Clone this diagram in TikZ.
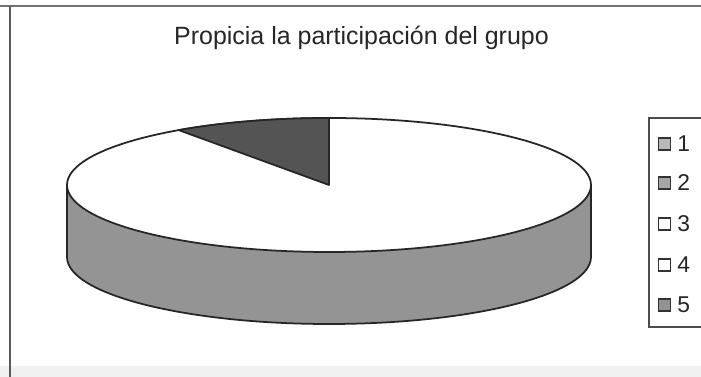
\documentclass[tikz,border=0pt]{standalone}
\usepackage{fontspec}
\setmainfont{Liberation Sans}
\usepackage{tikz}
\usetikzlibrary{positioning}

\definecolor{sidegray}{gray}{0.58}
\definecolor{wedgegray}{gray}{0.33}

\begin{document}
\begin{tikzpicture}[
        pieline/.style={draw=black!85, line width=1pt, line join=round},
        legendkey/.style={draw=black!80, fill=#1, line width=0.7pt, minimum size=0.24cm, inner sep=0pt},
        legendlabel/.style={inner sep=0pt, font=\fontsize{13}{15}\selectfont, text=black!85},
        titletext/.style={inner sep=0pt, font=\fontsize{14.2}{17}\selectfont, text=black!85}
    ]
                    \useasboundingbox (0,0) rectangle (14.02,7.54);
                    \fill [white] (0,0) rectangle (14.02,7.54);
                    \fill [black!6] (0,0) rectangle (14.02,0.22);

                    % chart frame
                    \draw [black!55, line width=0.6pt] (0,7.42) -- (14.02,7.42);
                    \draw [black!65, line width=0.6pt] (0.2,7.42) -- (0.2,0);

                    \node [titletext, anchor=base] (title) at (7.23,6.64)
                          {Propicia la participación del grupo};

                    % side of the pie
                    \fill [sidegray] (1.34,3.84) -- (1.34,2.40)
                          arc [start angle=180, end angle=360, x radius=5.24cm, y radius=1.34cm]
                          -- (11.82,3.84)
                          arc [start angle=0, end angle=-180, x radius=5.24cm, y radius=1.34cm] -- cycle;
                    \draw [pieline] (1.34,3.84) -- (1.34,2.40)
                          arc [start angle=180, end angle=360, x radius=5.24cm, y radius=1.34cm]
                          -- (11.82,3.84);

                    % top of the pie
                    \draw [pieline, fill=white] (6.58,3.84) ellipse [x radius=5.24cm, y radius=1.34cm];
                    \draw [pieline, fill=wedgegray] (6.58,3.84) -- (6.58,5.18)
                          arc [start angle=90, end angle=125, x radius=5.24cm, y radius=1.34cm] -- cycle;

                    % legend
                    \draw [black!70, line width=0.6pt] (14.2,5.18) -- (12.98,5.18) -- (12.98,1.00) -- (14.2,1.00);

                    \node [legendkey=gray!55] (key1) at (13.29,4.66) {};
                    \node [legendkey=gray!70] (key2) at (13.29,3.88) {};
                    \node [legendkey=white]   (key3) at (13.29,3.06) {};
                    \node [legendkey=white]   (key4) at (13.29,2.24) {};
                    \node [legendkey=gray!85] (key5) at (13.29,1.44) {};

                    \node [legendlabel, right=0.12cm of key1] (label1) {1};
                    \node [legendlabel, right=0.12cm of key2] (label2) {2};
                    \node [legendlabel, right=0.12cm of key3] (label3) {3};
                    \node [legendlabel, right=0.12cm of key4] (label4) {4};
                    \node [legendlabel, right=0.12cm of key5] (label5) {5};
\end{tikzpicture}
\end{document}
